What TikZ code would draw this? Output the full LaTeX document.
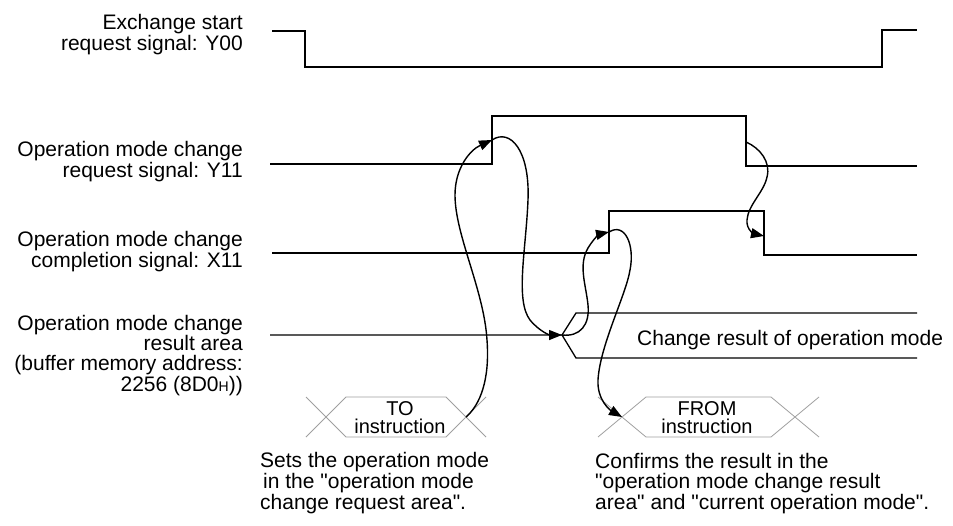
\documentclass[tikz,border=0pt]{standalone}
\usepackage{fontspec}
\setmainfont{Liberation Sans}
\usetikzlibrary{arrows.meta}

\begin{document}
\begin{tikzpicture}[
  x=1pt, y=-1pt,
  every node/.style={font=\fontsize{21}{19.5}\selectfont, inner sep=0pt},
  siglabel/.style={align=right, anchor=base east},
  note/.style={align=left, anchor=base west},
  instr/.style={font=\fontsize{20}{18}\selectfont, align=center, anchor=base},
  signal/.style={line width=1.3pt},
  cause/.style={line width=1.4pt, -{Triangle[length=13pt, width=10pt]}},
  bus/.style={draw=gray!75, line width=0.8pt}
]
\useasboundingbox (0,0) rectangle (953,525);

%% ─── Signal names (anchored at the last line) ────────────────────────────────
\node[siglabel] (nameY00) at (243,50)  {Exchange start\\request signal: Y00};
\node[siglabel] (nameY11) at (243,177) {Operation mode change\\request signal: Y11};
\node[siglabel] (nameX11) at (243,267) {Operation mode change\\completion signal: X11};
\node[siglabel] (nameRes) at (243,391)
      {Operation mode change\\result area\\(buffer memory address:\\2256 (8D0{\fontsize{14}{14}\selectfont H}))};

%% ─── Event points ────────────────────────────────────────────────────────────
\coordinate (y11up)  at (492,140);
\coordinate (y11dn)  at (746,142);
\coordinate (x11up)  at (609,232);
\coordinate (x11dn)  at (764,236);
\coordinate (resChg) at (562,335);
\coordinate (toR)    at (466,417);
\coordinate (fromL)  at (622,417);

%% ─── Waveforms ───────────────────────────────────────────────────────────────
\draw[signal] (272,31) -- (305,31) -- (305,67) -- (882,67) -- (882,30) -- (917,30);
\draw[signal] (270,164) -- (492,164) -- (492,116) -- (746,116) -- (746,166) -- (917,166);
\draw[signal] (272,253) -- (609,253) -- (609,211) -- (764,211) -- (764,255) -- (917,255);
\draw[signal] (270,335) -- (resChg) -- (576,313) -- (917,313);
\draw[signal] (resChg) -- (576,358) -- (917,358);
\node[anchor=base west] (resTxt) at (637,345) {Change result of operation mode};

%% ─── Instructions ────────────────────────────────────────────────────────────
\draw[bus] (306,397) -- (346,437) -- (446,437) -- (486,397);
\draw[bus] (306,437) -- (346,397) -- (446,397) -- (486,437);
\node[instr] (toTxt) at (400,433) {TO\\instruction};

\draw[bus] (598,397) -- (646,437) -- (771,437) -- (819,397);
\draw[bus] (598,437) -- (646,397) -- (771,397) -- (819,437);
\node[instr] (fromTxt) at (707,433) {FROM\\instruction};

\node[note] (toNote) at (260,509)
      {Sets the operation mode\\\hspace{3pt}in the \textquotedbl operation mode\\change request area\textquotedbl .};
\node[note] (fromNote) at (595,509)
      {Confirms the result in the\\\textquotedbl operation mode change result\\area\textquotedbl{} and \textquotedbl current operation mode\textquotedbl .};

%% ─── Cause and effect ────────────────────────────────────────────────────────
\draw[cause] (toR) .. controls (480,405) and (490,380) .. (487,340)
             .. controls (484,290) and (455,235) .. (455,195)
             .. controls (455,168) and (470,150) .. (y11up);
\draw[cause] (y11up) .. controls (510,128) and (530,150) .. (528,200)
             .. controls (526,250) and (515,300) .. (530,320)
             .. controls (540,332) and (550,335) .. (resChg);
\draw[cause] (resChg) .. controls (580,337) and (590,325) .. (588,305)
             .. controls (586,285) and (578,265) .. (588,248)
             .. controls (594,238) and (600,234) .. (x11up);
\draw[cause] (x11up) .. controls (625,222) and (635,245) .. (630,270)
             .. controls (626,295) and (600,345) .. (598,380)
             .. controls (597,400) and (610,410) .. (fromL);
\draw[cause] (y11dn) .. controls (760,148) and (771,162) .. (767,177)
             .. controls (764,192) and (748,205) .. (747,220)
             .. controls (746,230) and (755,234) .. (x11dn);

\end{tikzpicture}
\end{document}
